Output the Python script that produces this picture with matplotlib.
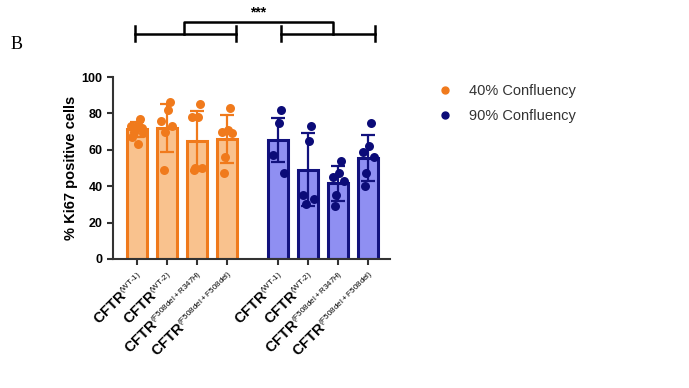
import matplotlib
matplotlib.use("Agg")
import matplotlib.pyplot as plt
import matplotlib._mathtext as mtext
import numpy as np
from matplotlib.lines import Line2D

plt.rcParams['font.family'] = ['Liberation Sans', 'DejaVu Sans']
plt.rcParams['mathtext.fontset'] = 'custom'
plt.rcParams['mathtext.rm'] = 'Liberation Sans'
plt.rcParams['mathtext.bf'] = 'Liberation Sans:bold'
mtext.SHRINK_FACTOR = 0.55  # smaller superscripts, as in the figure

# Data
genotypes = ["WT-1", "WT-2", "F508del+R347H", "F508del+F508del"]
means_40 = [71.3, 72, 65, 66]
sd_40 = [4, 13, 16.5, 13]
means_90 = [65.3, 49, 41.5, 55.5]
sd_90 = [12, 20, 9.5, 12.5]
points_40 = [
    [77, 74, 73, 72, 71, 70, 69, 67, 63],
    [86, 82, 76, 73, 70, 49],
    [85, 78, 78, 50, 50, 49],
    [83, 71, 70, 69, 56, 47],
]
points_90 = [
    [82, 75, 57, 47],
    [73, 65, 35, 33, 30],
    [54, 47, 45, 43, 35, 29],
    [75, 62, 59, 56, 47, 40],
]

fill_40, edge_40, dot_40 = "#F9C28E", "#F07A1C", "#F07A1C"
fill_90, edge_90, dot_90 = "#8F8FF2", "#12127E", "#0B0B78"

fig = plt.figure(figsize=(6.89, 3.88), dpi=100)
ax = fig.add_axes([0.164, 0.3325, 0.402, 0.469])

pos_40 = np.arange(4)
pos_90 = np.arange(4) + 4.7
w = 0.66

for pos, means, sds, pts, fc, ec, dc in [
    (pos_40, means_40, sd_40, points_40, fill_40, edge_40, dot_40),
    (pos_90, means_90, sd_90, points_90, fill_90, edge_90, dot_90),
]:
    ax.bar(pos, means, width=w, color=fc, edgecolor=ec, linewidth=2.2, zorder=2)
    ax.errorbar(pos, means, yerr=sds, fmt="none", ecolor=ec, elinewidth=1.6,
                capsize=5, capthick=1.6, zorder=3)
    for x, p in zip(pos, pts):
        n = len(p)
        offs = 0.2 * np.sin(np.arange(n) * 2.3 + 0.6)
        ax.scatter(x + offs, p, s=42, color=dc, zorder=4, linewidths=0)

ax.set_xlim(-0.79, 8.43)
ax.set_ylim(0, 100)
ax.set_yticks(np.arange(0, 101, 20))
ax.set_yticklabels([str(v) for v in range(0, 101, 20)], fontweight="bold", fontsize=9)
ax.set_ylabel("% Ki67 positive cells", fontweight="bold", fontsize=10.5)
ax.yaxis.set_label_coords(-0.128, 0.5)

labels = [r"$\mathbf{CFTR}^{\mathrm{(%s)}}$" % g.replace("-", "\u2010") for g in genotypes]
ax.set_xticks(np.concatenate([pos_40, pos_90]))
ax.set_xticklabels(labels * 2, rotation=45, ha="right", rotation_mode="anchor", fontsize=10.5)

for s in ["top", "right"]:
    ax.spines[s].set_visible(False)
for s in ["left", "bottom"]:
    ax.spines[s].set_linewidth(1.5)
    ax.spines[s].set_color("#333333")
ax.tick_params(axis="both", width=1.5, color="#333333", length=4)

# significance brackets
kw = dict(color="black", lw=1.8, clip_on=False)
ax.plot([-0.06, 3.3], [123.8, 123.8], **kw)
ax.plot([4.8, 7.92], [123.8, 123.8], **kw)
for x in [-0.06, 3.3, 4.8, 7.92]:
    ax.plot([x, x], [119.8, 127.8], **kw)
ax.plot([1.58, 1.58, 6.53, 6.53], [123.8, 130.2, 130.2, 123.8], **kw)
ax.text(4.03, 131.5, "***", ha="center", va="bottom", fontsize=10, fontweight="bold")

fig.text(0.015, 0.885, "B", fontsize=13, family="Liberation Serif", va="center")

handles = [
    Line2D([], [], marker="o", linestyle="none", color=dot_40, markersize=5, label="40% Confluency"),
    Line2D([], [], marker="o", linestyle="none", color=dot_90, markersize=5, label="90% Confluency"),
]
leg = fig.legend(handles=handles, loc="upper left", bbox_to_anchor=(0.605, 0.818),
                 frameon=False, fontsize=10.5, handletextpad=0.7, labelspacing=0.75)
for t in leg.get_texts():
    t.set_color("#333333")

fig.savefig("out.png", dpi=100)
